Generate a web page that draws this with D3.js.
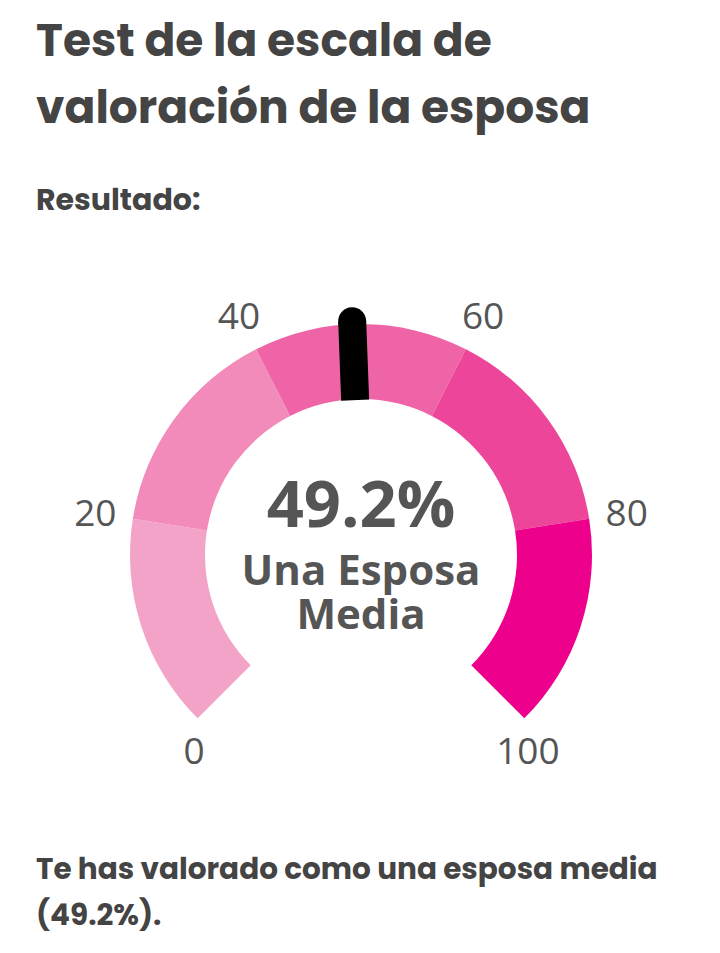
<!DOCTYPE html>
<html>
<head>
<meta charset="utf-8">
<script src="https://cdn.jsdelivr.net/npm/d3@7"></script>
<style>
  html, body { margin: 0; padding: 0; background: #fff; }
  svg { display: block; }
</style>
</head>
<body>
<script>
// gauge data
var bandStarts = [0, 20, 40, 60, 80];
var bandEnds = [20, 40, 60, 80, 100];
var bandColors = ["#f4a3c8", "#f28aba", "#ef64a6", "#ec4599", "#ec008c"];
var tickValues = [0, 20, 40, 60, 80, 100];
var score = 49.2;
var titleLines = ["Test de la escala de", "valoración de la esposa"];
var subtitle = "Resultado:";
var centerLabel = ["Una Esposa", "Media"];
var resultLines = ["Te has valorado como una esposa media", "(49.2%)."];

var width = 720, height = 953;
var cx = 361, cy = 555,
    outerR = 231, innerR = 156;

var svg = d3.select("body").append("svg")
    .attr("width", width)
    .attr("height", height);

// heading texts
var headFont = "Poppins, 'Open Sans', sans-serif";
svg.selectAll(".title")
    .data(titleLines)
    .enter().append("text")
    .attr("class", "title")
    .attr("x", 36)
    .attr("y", function(d, i) { return 56 + i * 67; })
    .style("font-family", headFont)
    .style("font-weight", 700)
    .style("font-size", "45.5px")
    .style("fill", "#444")
    .text(function(d) { return d; });

svg.append("text")
    .attr("x", 36)
    .attr("y", 210)
    .style("font-family", headFont)
    .style("font-weight", 700)
    .style("font-size", "30px")
    .style("fill", "#444")
    .text(subtitle);

svg.selectAll(".result")
    .data(resultLines)
    .enter().append("text")
    .attr("class", "result")
    .attr("x", 36)
    .attr("y", function(d, i) { return 879 + i * 46; })
    .style("font-family", headFont)
    .style("font-weight", 700)
    .style("font-size", "29.5px")
    .style("fill", "#444")
    .text(function(d) { return d; });

// angle scale: 0 -> -135deg, 100 -> +135deg
var angle = d3.scaleLinear()
    .domain([0, 100])
    .range([-135 * Math.PI / 180, 135 * Math.PI / 180]);

var g = svg.append("g")
    .attr("transform", "translate(" + cx + "," + cy + ")");

var arc = d3.arc()
    .innerRadius(innerR)
    .outerRadius(outerR);

g.selectAll(".band")
    .data(bandStarts)
    .enter().append("path")
    .attr("class", "band")
    .attr("d", function(d, i) {
        return arc({startAngle: angle(d), endAngle: angle(bandEnds[i])});
    })
    .style("fill", function(d, i) { return bandColors[i]; });

// tick labels
function labelPos(v) {
    var a = angle(v), r = 269;
    if (v === 0 || v === 100) {
        r = 257;
        a += (v === 0 ? -1 : 1) * 4.5 * Math.PI / 180;
    }
    return [r * Math.sin(a), -r * Math.cos(a)];
}
g.selectAll(".tick")
    .data(tickValues)
    .enter().append("text")
    .attr("class", "tick")
    .attr("x", function(d) { return labelPos(d)[0]; })
    .attr("y", function(d) { return labelPos(d)[1]; })
    .attr("dy", "0.36em")
    .attr("text-anchor", "middle")
    .style("font-family", "'Open Sans', sans-serif")
    .style("font-size", "37px")
    .style("fill", "#555")
    .text(function(d) { return d; });

// needle
var needle = g.append("g")
    .attr("transform", "rotate(" + (angle(score) * 180 / Math.PI) + ")");
needle.append("rect")
    .attr("x", -14)
    .attr("y", -234)
    .attr("width", 28)
    .attr("height", 234 - 155)
    .style("fill", "#000");
needle.append("circle")
    .attr("cx", 0)
    .attr("cy", -234)
    .attr("r", 14)
    .style("fill", "#000");

// center value
g.append("text")
    .attr("x", 0)
    .attr("y", -28)
    .attr("text-anchor", "middle")
    .style("font-family", "'Open Sans', sans-serif")
    .style("font-weight", 700)
    .style("font-size", "65px")
    .style("fill", "#555")
    .text(score.toFixed(1) + "%");

g.selectAll(".clabel")
    .data(centerLabel)
    .enter().append("text")
    .attr("class", "clabel")
    .attr("x", 0)
    .attr("y", function(d, i) { return 30 + i * 44; })
    .attr("text-anchor", "middle")
    .style("font-family", "'Open Sans', sans-serif")
    .style("font-weight", 700)
    .style("font-size", "42px")
    .style("fill", "#555")
    .text(function(d) { return d; });
</script>
</body>
</html>
